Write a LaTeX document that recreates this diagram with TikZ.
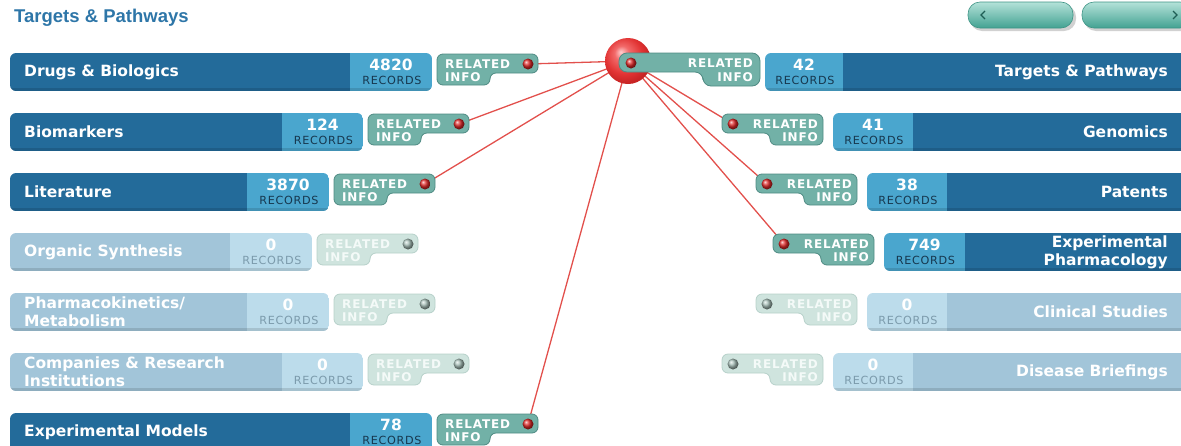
\documentclass[tikz,border=0pt]{standalone}
\usepackage{fontspec}
\setmainfont{DejaVu Sans}
\newfontfamily\titlefont{Liberation Sans}
\newfontfamily\pixfont{DejaVu Sans}[LetterSpace=7]
\newfontfamily\recfont{DejaVu Sans}[LetterSpace=6]
\definecolor{titleblue}{HTML}{2E76A8}
\definecolor{actN}{HTML}{236B9A}
\definecolor{actR}{HTML}{4AA6CE}
\definecolor{actT}{HTML}{17384F}
\definecolor{fadN}{HTML}{A2C5D9}
\definecolor{fadR}{HTML}{BCDCEB}
\definecolor{fadT}{HTML}{7C9BAC}
\definecolor{actB}{HTML}{72B1A7}
\definecolor{actE}{HTML}{4F8B83}
\definecolor{actX}{HTML}{FFFFFF}
\definecolor{actD}{HTML}{E02828}
\definecolor{fadB}{HTML}{CFE4DE}
\definecolor{fadE}{HTML}{B7D1CA}
\definecolor{fadX}{HTML}{F4FAF8}
\definecolor{fadD}{HTML}{A8C0B9}
\definecolor{linkred}{HTML}{E2504C}
\definecolor{hubA}{HTML}{FFD0D0}
\definecolor{hubB}{HTML}{F26A6A}
\definecolor{hubC}{HTML}{E23434}
\definecolor{hubD}{HTML}{C82424}
\definecolor{btnT}{HTML}{B4E2D9}
\definecolor{btnB}{HTML}{43A292}
\definecolor{btnE}{HTML}{3E9485}
\definecolor{chevc}{HTML}{1F5E55}
\pgfdeclareradialshading{hubshade}{\pgfqpoint{-8bp}{10bp}}{%
  color(0bp)=(hubA); color(8bp)=(hubB); color(20bp)=(hubC); color(28bp)=(hubD); color(50bp)=(hubD)}
\pgfdeclarelayer{background}
\pgfsetlayers{background,main}
\tikzset{
  lbl/.style={inner sep=0pt,text=white,font=\fontsize{15.5}{18}\selectfont\bfseries,align=left},
  rlbl/.style={inner sep=0pt,text=white,font=\fontsize{15.5}{18}\selectfont\bfseries,align=right},
  num/.style={inner sep=0pt,text=white,font=\fontsize{15.5}{17}\selectfont\bfseries},
  rec/.style={inner sep=0pt,font=\recfont\fontsize{11.2}{12}\selectfont},
  pix/.style={inner sep=0pt,font=\pixfont\fontsize{12}{13}\selectfont\bfseries},
  dotball/.style={circle,inner sep=0pt,minimum size=11pt},
  link/.style={draw=linkred,line width=1.3pt},
  chev/.style={draw=chevc,line width=1.3pt},
  ttl/.style={inner sep=0pt,text=titleblue,font=\titlefont\fontsize{18.5}{20}\selectfont\bfseries}
}
\newcommand\LeftRow[7]{%
  \begin{scope}
    \clip[rounded corners=6pt] (10,#2-19) rectangle (#4,#2+19);
    \fill[#7N] (10,#2-19) rectangle (#3,#2+19);
    \fill[#7R] (#3,#2-19) rectangle (#4,#2+19);
    \fill[black,opacity=.12] (10,#2+16) rectangle (#4,#2+19);
  \end{scope}
  \node[lbl,anchor=west] (#1) at (24,#2) {#5};
  \node[num] (#1-n) at ({(#3+#4)/2},#2-7) {#6};
  \node[rec,text=#7T] (#1-r) at ({(#3+#4)/2+1},#2+8) {RECORDS};
}
\newcommand\RightRow[7]{%
  \begin{scope}
    \clip[rounded corners=6pt] (#3,#2-19) rectangle (1200,#2+19);
    \fill[#7R] (#3,#2-19) rectangle (#4,#2+19);
    \fill[#7N] (#4,#2-19) rectangle (1200,#2+19);
    \fill[black,opacity=.12] (#3,#2+16) rectangle (1200,#2+19);
  \end{scope}
  \node[rlbl,anchor=east] (#1) at (1168,#2) {#5};
  \node[num] (#1-n) at ({(#3+#4)/2},#2-7) {#6};
  \node[rec,text=#7T] (#1-r) at ({(#3+#4)/2+1},#2+8) {RECORDS};
}
\newcommand\LBadge[4]{%
  \draw[fill=#4B,draw=#4E,line width=.8pt,rounded corners=6pt]
    (#2,#3-18) -- (#2+101,#3-18) -- (#2+101,#3+1) -- (#2+53,#3+1)
    -- (#2+53,#3+13) -- (#2,#3+13) -- cycle;
  \node[pix,text=#4X,anchor=west] (#1-rel) at (#2+8,#3-8) {RELATED};
  \node[pix,text=#4X,anchor=west] (#1-inf) at (#2+8,#3+5) {INFO};
  \node[dotball,ball color=#4D] (#1) at (#2+91,#3-8) {};
}
\newcommand\RBadge[4]{%
  \draw[fill=#4B,draw=#4E,line width=.8pt,rounded corners=6pt]
    (#2-101,#3-18) -- (#2,#3-18) -- (#2,#3+13) -- (#2-53,#3+13)
    -- (#2-53,#3+1) -- (#2-101,#3+1) -- cycle;
  \node[pix,text=#4X,anchor=east] (#1-rel) at (#2-5,#3-8) {RELATED};
  \node[pix,text=#4X,anchor=east] (#1-inf) at (#2-5,#3+5) {INFO};
  \node[dotball,ball color=#4D] (#1) at (#2-90,#3-8) {};
}
\begin{document}
\begin{tikzpicture}[x=1pt,y=-1pt]
\useasboundingbox (0,0) rectangle (1181,445);
\clip (0,0) rectangle (1181,445);

% title and navigation buttons
\node[ttl,anchor=west] (title) at (14,18) {Targets \& Pathways};
\fill[black!18,rounded corners=12pt] (970,5) rectangle (1076,31);
\shadedraw[top color=btnT,bottom color=btnB,draw=btnE,line width=.6pt,rounded corners=12pt] (968,2) rectangle (1073,28);
\draw[chev] (985,11) -- (981,15) -- (985,19);
\fill[black!18,rounded corners=12pt] (1084,5) rectangle (1195,31);
\shadedraw[top color=btnT,bottom color=btnB,draw=btnE,line width=.6pt,rounded corners=12pt] (1082,2) rectangle (1192,28);
\draw[chev] (1173,11) -- (1177,15) -- (1173,19);

% left column
\LeftRow{drugs}{72}{350}{432}{Drugs \& Biologics}{4820}{act}
\LBadge{bdrugs}{437}{72}{act}
\LeftRow{bio}{132}{282}{363}{Biomarkers}{124}{act}
\LBadge{bbio}{368}{132}{act}
\LeftRow{lit}{192}{247}{329}{Literature}{3870}{act}
\LBadge{blit}{334}{192}{act}
\LeftRow{org}{252}{230}{312}{Organic Synthesis}{0}{fad}
\LBadge{borg}{317}{252}{fad}
\LeftRow{pk}{312}{247}{329}{Pharmacokinetics/\\Metabolism}{0}{fad}
\LBadge{bpk}{334}{312}{fad}
\LeftRow{comp}{372}{282}{363}{Companies \& Research\\Institutions}{0}{fad}
\LBadge{bcomp}{368}{372}{fad}
\LeftRow{expm}{432}{350}{432}{Experimental Models}{78}{act}
\LBadge{bexpm}{437}{432}{act}

% right column
\RightRow{targ}{72}{765}{843}{Targets \& Pathways}{42}{act}
\RightRow{gen}{132}{833}{913}{Genomics}{41}{act}
\RBadge{bgen}{823}{132}{act}
\RightRow{pat}{192}{867}{947}{Patents}{38}{act}
\RBadge{bpat}{857}{192}{act}
\RightRow{expp}{252}{884}{965}{Experimental\\Pharmacology}{749}{act}
\RBadge{bexpp}{874}{252}{act}
\RightRow{clin}{312}{867}{947}{Clinical Studies}{0}{fad}
\RBadge{bclin}{857}{312}{fad}
\RightRow{dis}{372}{833}{913}{Disease Briefings}{0}{fad}
\RBadge{bdis}{823}{372}{fad}

% hub
\node[circle,inner sep=0pt,minimum size=46pt,shade,shading=hubshade] (hub) at (628,61) {};
\draw[fill=actB,draw=actE,line width=.8pt,rounded corners=8pt]
  (619,53) -- (760,53) -- (760,86) -- (703,86) -- (703,72) -- (619,72) -- cycle;
\node[pix,text=white,anchor=east] (btarg-rel) at (753,63) {RELATED};
\node[pix,text=white,anchor=east] (btarg-inf) at (753,77) {INFO};
\node[dotball,ball color=actD] (btarg) at (631,63) {};

% connectors
\begin{pgfonlayer}{background}
\draw[link] (hub.center) -- (bdrugs.center);
\draw[link] (hub.center) -- (bbio.center);
\draw[link] (hub.center) -- (blit.center);
\draw[link] (hub.center) -- (bexpm.center);
\draw[link] (hub.center) -- (bgen.center);
\draw[link] (hub.center) -- (bpat.center);
\draw[link] (hub.center) -- (bexpp.center);
\end{pgfonlayer}
\end{tikzpicture}
\end{document}
